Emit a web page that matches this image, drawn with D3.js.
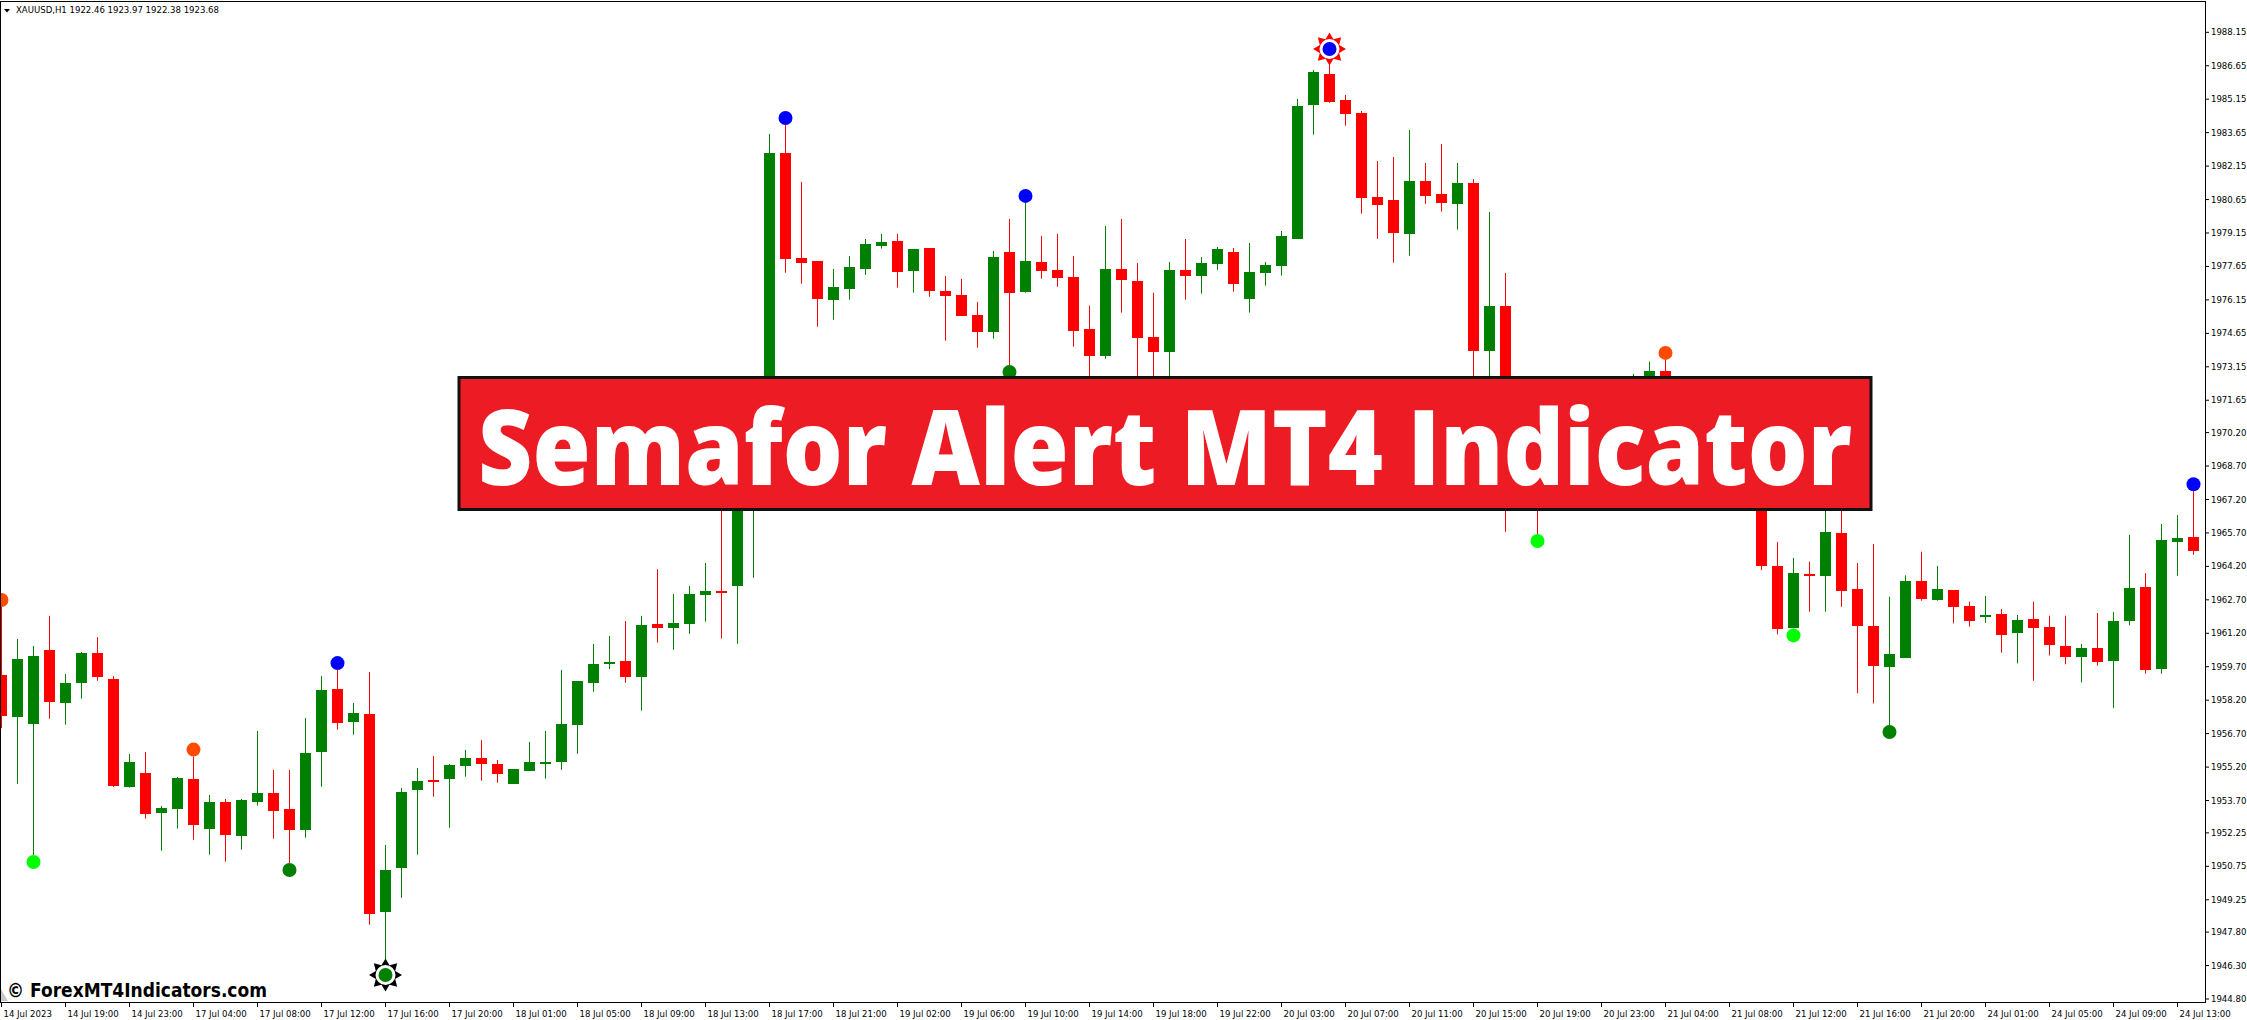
<!DOCTYPE html>
<html>
<head>
<meta charset="utf-8">
<script src="https://cdnjs.cloudflare.com/ajax/libs/d3/7.8.5/d3.min.js"></script>
<style>
  html, body { margin: 0; padding: 0; background: #ffffff; }
  svg { display: block; }
  .axis text, .title {
    font-family: "DejaVu Sans", sans-serif;
    font-stretch: condensed;
    font-size: 9.5px;
    fill: #000;
  }
</style>
</head>
<body>
<svg id="chart" width="2247" height="1020"></svg>
<script>
// XAUUSD H1 candles, 14 Jul 15:00 .. 24 Jul 13:00
const opens = [
  1959.33, 1957.46, 1957.15, 1960.45, 1958.09, 1958.98, 1960.32, 1959.15, 1954.32, 1954.93,
  1953.15, 1953.33, 1954.67, 1952.44, 1953.63, 1952.12, 1953.65, 1954.04, 1953.32, 1952.39,
  1955.89, 1958.70, 1957.24, 1957.58, 1948.71, 1950.69, 1954.19, 1954.62, 1954.68, 1955.26,
  1955.61, 1955.34, 1954.45, 1955.04, 1955.38, 1955.44, 1957.10, 1958.98, 1959.84, 1959.96,
  1959.25, 1961.62, 1961.45, 1961.63, 1962.93, 1963.10, 1963.33, 1968.10, 1970.60, 1982.74,
  1978.03, 1977.89, 1976.16, 1976.65, 1977.55, 1978.58, 1978.79, 1977.46, 1978.48, 1976.55,
  1976.37, 1975.47, 1974.72, 1978.30, 1976.52, 1977.85, 1977.49, 1977.18, 1974.85, 1973.65,
  1977.54, 1977.00, 1974.49, 1973.83, 1977.49, 1977.24, 1977.77, 1978.30, 1976.20, 1977.37,
  1977.68, 1978.89, 1984.90, 1986.28, 1985.11, 1984.53, 1980.76, 1980.63, 1979.12, 1981.48,
  1980.90, 1980.46, 1981.39, 1973.87, 1975.88, 1968.50, 1969.00, 1967.60, 1968.80, 1969.90,
  1969.30, 1970.10, 1969.60, 1972.50, 1972.96, 1970.80, 1971.20, 1970.60, 1969.50, 1970.30,
  1968.60, 1964.22, 1961.45, 1963.88, 1963.78, 1965.71, 1963.19, 1961.53, 1959.70, 1960.10,
  1963.54, 1962.71, 1963.14, 1962.42, 1961.95, 1962.07, 1961.23, 1961.84, 1961.48, 1960.63,
  1960.15, 1960.54, 1959.97, 1961.76, 1963.28, 1959.61, 1965.31, 1965.52
];
const highs = [
  1962.38, 1960.94, 1960.63, 1961.98, 1959.37, 1960.36, 1961.03, 1959.28, 1955.79, 1955.88,
  1953.45, 1954.76, 1955.67, 1953.95, 1953.77, 1953.77, 1956.82, 1955.07, 1955.07, 1957.40,
  1959.28, 1959.55, 1958.07, 1959.46, 1951.71, 1954.26, 1955.16, 1955.70, 1955.34, 1955.97,
  1956.41, 1955.52, 1955.11, 1956.32, 1956.82, 1959.55, 1959.06, 1960.72, 1961.08, 1961.75,
  1961.98, 1964.08, 1962.96, 1963.32, 1964.35, 1968.00, 1968.90, 1971.20, 1983.59, 1983.99,
  1981.44, 1977.89, 1977.54, 1978.12, 1978.88, 1979.11, 1979.11, 1978.43, 1978.48, 1977.22,
  1977.09, 1976.06, 1978.34, 1979.78, 1980.50, 1979.02, 1979.11, 1978.12, 1975.89, 1979.46,
  1979.78, 1977.80, 1976.47, 1977.85, 1978.88, 1978.07, 1978.52, 1978.48, 1978.70, 1977.85,
  1979.24, 1985.16, 1986.46, 1986.82, 1985.34, 1984.62, 1982.38, 1982.56, 1983.77, 1982.29,
  1983.14, 1982.29, 1981.57, 1980.09, 1977.36, 1969.60, 1969.80, 1969.20, 1970.30, 1970.60,
  1970.40, 1970.90, 1972.83, 1973.38, 1973.46, 1971.60, 1971.90, 1971.10, 1970.80, 1970.90,
  1969.20, 1965.29, 1964.58, 1964.41, 1967.50, 1967.30, 1964.35, 1965.20, 1962.84, 1963.80,
  1964.86, 1964.22, 1963.14, 1962.62, 1962.87, 1962.28, 1962.02, 1962.62, 1961.99, 1961.99,
  1960.72, 1962.11, 1962.15, 1965.61, 1963.90, 1966.10, 1966.50, 1967.57
];
const lows = [
  1956.94, 1954.45, 1951.26, 1957.37, 1957.10, 1958.27, 1959.07, 1954.31, 1954.28, 1952.89,
  1951.45, 1952.44, 1951.94, 1951.27, 1950.96, 1951.50, 1953.47, 1951.99, 1950.90, 1952.03,
  1954.32, 1956.88, 1956.65, 1948.13, 1946.46, 1949.34, 1951.27, 1953.87, 1952.48, 1954.77,
  1954.59, 1954.50, 1954.45, 1955.04, 1954.68, 1955.08, 1955.80, 1958.58, 1959.60, 1958.98,
  1957.73, 1960.78, 1960.46, 1961.18, 1961.72, 1960.96, 1960.73, 1963.69, 1970.00, 1977.37,
  1976.88, 1974.95, 1975.26, 1976.16, 1977.27, 1978.45, 1976.70, 1976.47, 1976.29, 1974.32,
  1975.44, 1974.01, 1974.41, 1973.23, 1976.47, 1977.10, 1976.74, 1974.05, 1971.89, 1973.51,
  1975.58, 1972.02, 1972.40, 1972.50, 1976.16, 1976.43, 1977.50, 1976.52, 1975.58, 1976.79,
  1977.24, 1978.89, 1983.56, 1984.99, 1983.96, 1980.02, 1978.89, 1977.82, 1978.13, 1980.46,
  1980.11, 1979.30, 1970.76, 1971.20, 1965.75, 1967.40, 1965.65, 1967.20, 1968.20, 1968.90,
  1968.70, 1969.20, 1969.10, 1971.80, 1970.20, 1969.90, 1970.30, 1969.20, 1968.90, 1968.30,
  1964.04, 1961.15, 1961.42, 1962.17, 1962.17, 1962.39, 1958.51, 1958.06, 1957.09, 1960.10,
  1962.66, 1962.66, 1961.65, 1961.50, 1961.67, 1960.33, 1959.85, 1959.07, 1960.21, 1959.81,
  1959.00, 1959.75, 1957.84, 1961.56, 1959.39, 1959.39, 1963.78, 1964.72
];
const closes = [
  1957.50, 1960.05, 1960.18, 1958.13, 1958.97, 1960.32, 1959.25, 1954.37, 1955.43, 1953.11,
  1953.37, 1954.71, 1952.62, 1953.63, 1952.17, 1953.72, 1954.04, 1953.24, 1952.39, 1955.83,
  1958.66, 1957.19, 1957.63, 1948.63, 1950.58, 1954.08, 1954.58, 1954.59, 1955.29, 1955.61,
  1955.35, 1954.90, 1955.11, 1955.43, 1955.43, 1957.13, 1959.06, 1959.82, 1959.91, 1959.25,
  1961.57, 1961.45, 1961.66, 1962.96, 1963.10, 1963.02, 1968.20, 1970.60, 1982.74, 1977.98,
  1977.82, 1976.20, 1976.73, 1977.63, 1978.66, 1978.75, 1977.41, 1978.43, 1976.56, 1976.34,
  1975.44, 1974.72, 1978.07, 1976.47, 1977.89, 1977.46, 1977.15, 1974.77, 1973.65, 1977.54,
  1977.06, 1974.45, 1973.83, 1977.49, 1977.24, 1977.80, 1978.43, 1976.88, 1977.40, 1977.72,
  1979.02, 1984.85, 1986.37, 1985.04, 1984.50, 1980.73, 1980.42, 1979.16, 1981.48, 1980.82,
  1980.51, 1981.39, 1973.87, 1975.88, 1968.52, 1969.00, 1967.60, 1968.80, 1969.90, 1969.30,
  1970.10, 1969.60, 1972.50, 1972.96, 1970.80, 1971.20, 1970.60, 1969.50, 1970.30, 1968.60,
  1964.23, 1961.41, 1963.90, 1963.81, 1965.74, 1963.11, 1961.54, 1959.75, 1960.27, 1963.54,
  1962.75, 1963.19, 1962.37, 1961.76, 1962.01, 1961.14, 1961.80, 1961.45, 1960.69, 1960.15,
  1960.54, 1959.93, 1961.75, 1963.23, 1959.57, 1965.38, 1965.46, 1964.90
];

// semafor signals: candle index, side and level (3 = with star)
const signalIndex = [0, 2, 12, 18, 21, 24, 49, 63, 64, 83, 96, 104, 112, 118, 137];
const signalSide  = ["high", "low", "high", "low", "high", "low", "high", "low", "high", "high", "low", "high", "low", "low", "high"];
const signalLevel = [1, 1, 1, 2, 2, 3, 2, 2, 2, 3, 1, 1, 1, 2, 2];

// time axis labels, one every 4 bars
const timeLabels = [
  "14 Jul 2023", "14 Jul 19:00", "14 Jul 23:00", "17 Jul 04:00", "17 Jul 08:00", "17 Jul 12:00",
  "17 Jul 16:00", "17 Jul 20:00", "18 Jul 01:00", "18 Jul 05:00", "18 Jul 09:00", "18 Jul 13:00",
  "18 Jul 17:00", "18 Jul 21:00", "19 Jul 02:00", "19 Jul 06:00", "19 Jul 10:00", "19 Jul 14:00",
  "19 Jul 18:00", "19 Jul 22:00", "20 Jul 03:00", "20 Jul 07:00", "20 Jul 11:00", "20 Jul 15:00",
  "20 Jul 19:00", "20 Jul 23:00", "21 Jul 04:00", "21 Jul 08:00", "21 Jul 12:00", "21 Jul 16:00",
  "21 Jul 20:00", "24 Jul 01:00", "24 Jul 05:00", "24 Jul 09:00", "24 Jul 13:00"
];

const priceTicks = [
  1988.15, 1986.65, 1985.15, 1983.65, 1982.15, 1980.65, 1979.15, 1977.65, 1976.15, 1974.65,
  1973.15, 1971.65, 1970.20, 1968.70, 1967.20, 1965.70, 1964.20, 1962.70, 1961.20, 1959.70,
  1958.20, 1956.70, 1955.20, 1953.70, 1952.25, 1950.75, 1949.25, 1947.80, 1946.30, 1944.80
];

const svg = d3.select("#chart");
const plotRight = 2205;
const plotBottom = 1002;

const x = d3.scaleLinear()
  .domain([0, opens.length - 1])
  .range([1.5, 1.5 + 16 * (opens.length - 1)]);
const y = d3.scaleLinear()
  .domain([1944.80, 1988.15])
  .range([999, 32.3]);

const candles = opens.map((o, i) => ({
  i: i, o: o, h: highs[i], l: lows[i], c: closes[i]
}));
const up = "#008000", down = "#ff0000";

svg.append("clipPath").attr("id", "plot-clip")
  .append("rect").attr("x", 1).attr("y", 2).attr("width", plotRight - 1).attr("height", plotBottom - 2);

const plot = svg.append("g").attr("clip-path", "url(#plot-clip)");

// wicks
plot.append("g").selectAll("rect")
  .data(candles)
  .join("rect")
  .attr("x", d => x(d.i) - 0.5)
  .attr("y", d => y(d.h))
  .attr("width", 1)
  .attr("height", d => y(d.l) - y(d.h))
  .attr("fill", d => (d.c >= d.o ? up : down));

// bodies
plot.append("g").selectAll("rect")
  .data(candles)
  .join("rect")
  .attr("x", d => x(d.i) - 5.5)
  .attr("y", d => Math.round(y(Math.max(d.o, d.c))))
  .attr("width", 11)
  .attr("height", d => Math.max(2, Math.round(y(Math.min(d.o, d.c))) - Math.round(y(Math.max(d.o, d.c)))))
  .attr("fill", d => (d.c >= d.o ? up : down));

// semafor marks
const signals = signalIndex.map((k, j) => ({
  k: k, side: signalSide[j], level: signalLevel[j]
}));
const dotColor = s => s.side === "high"
  ? (s.level === 1 ? "#ff4a00" : "#0000ff")
  : (s.level === 1 ? "#00ff00" : "#008000");
const markY = s => s.side === "high"
  ? y(highs[s.k]) - (s.level === 3 ? 13 : 7)
  : y(lows[s.k]) + (s.level === 3 ? 13 : 7);

const starPath = d3.lineRadial()
  .curve(d3.curveLinearClosed)
  .angle((d, i) => i * Math.PI / 8)
  .radius((d, i) => (i % 2 === 0 ? 16.5 : 10.5));

const stars = plot.append("g").selectAll("g")
  .data(signals.filter(s => s.level === 3))
  .join("g")
  .attr("transform", s => `translate(${x(s.k)},${markY(s)})`);
stars.append("path")
  .attr("d", starPath(d3.range(16)))
  .attr("fill", s => (s.side === "high" ? "#ff0000" : "#000000"));
stars.append("circle").attr("r", 10).attr("fill", "#ffffff");

plot.append("g").selectAll("circle")
  .data(signals)
  .join("circle")
  .attr("cx", s => x(s.k))
  .attr("cy", markY)
  .attr("r", 7)
  .attr("fill", dotColor);

// title banner
const banner = svg.append("g");
banner.append("rect")
  .attr("x", 459).attr("y", 377.5)
  .attr("width", 1412).attr("height", 132)
  .attr("fill", "#ed1c24")
  .attr("stroke", "#111")
  .attr("stroke-width", 3);
banner.append("text")
  .attr("x", 1165).attr("y", 485)
  .attr("text-anchor", "middle")
  .attr("textLength", 1374)
  .attr("lengthAdjust", "spacingAndGlyphs")
  .style("font-family", "'Open Sans', 'DejaVu Sans', sans-serif")
  .style("font-weight", 800)
  .style("font-size", "104px")
  .style("fill", "#ffffff")
  .text("Semafor Alert MT4 Indicator");

// frame
svg.append("rect")
  .attr("x", 0.5).attr("y", 1.5)
  .attr("width", plotRight)
  .attr("height", plotBottom - 1)
  .attr("fill", "none")
  .attr("stroke", "#000");

// header line
svg.append("path").attr("d", "M4,9L10,9L7,12.5Z").attr("fill", "#000");
svg.append("text").attr("class", "title")
  .attr("x", 16).attr("y", 13)
  .text("XAUUSD,H1  1922.46 1923.97 1922.38 1923.68");

// watermark
svg.append("path").attr("d", "M1,989L1,1001L8,1001Z").attr("fill", "#c8c8c8");
svg.append("text")
  .attr("x", 7).attr("y", 997)
  .attr("textLength", 260)
  .attr("lengthAdjust", "spacingAndGlyphs")
  .style("font-family", "'DejaVu Sans', sans-serif")
  .style("font-weight", 700)
  .style("font-size", "19px")
  .style("fill", "#000")
  .text("\u00a9 ForexMT4Indicators.com");

// axes
const xAxis = d3.axisBottom(x)
  .tickValues(d3.range(0, opens.length, 4))
  .tickFormat((d, i) => timeLabels[i])
  .tickSize(5)
  .tickSizeOuter(0)
  .offset(0);
svg.append("g").attr("class", "axis")
  .attr("transform", `translate(0,${plotBottom})`)
  .call(xAxis)
  .call(g => g.select(".domain").remove())
  .call(g => g.selectAll(".tick text")
    .attr("text-anchor", "start")
    .attr("x", 2)
    .attr("y", 8)
    .attr("dy", "0.71em"));

const yAxis = d3.axisRight(y)
  .tickValues(priceTicks)
  .tickFormat(d3.format(".2f"))
  .tickSize(4)
  .tickPadding(2)
  .offset(0);
svg.append("g").attr("class", "axis")
  .attr("transform", `translate(${plotRight},0)`)
  .call(yAxis)
  .call(g => g.select(".domain").remove());
</script>
</body>
</html>
